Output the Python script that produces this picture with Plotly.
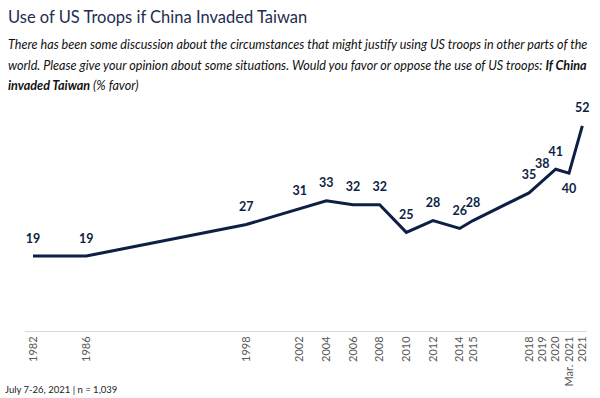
import plotly.graph_objects as go

# Data
tick_labels = ["1982", "1986", "1998", "2002", "2004", "2006", "2008", "2010",
               "2012", "2014", "2015", "2018", "2019", "2020", "Mar. 2021", "2021"]
# axis positions (the reference axis spaces the recent surveys one unit apart)
x_pos = [1982, 1986, 1998, 2002, 2004, 2006, 2008, 2010,
         2012, 2014, 2015, 2019.2, 2020.2, 2021.2, 2022.2, 2023.2]
favor = [19, 19, 27, 31, 33, 32, 32, 25, 28, 26, 28, 35, 38, 41, 40, 52]
label_pos = ["top center"] * len(favor)
label_pos[14] = "bottom center"

navy = "#0E1F45"
font_family = "Lato, 'Open Sans', sans-serif"

W, H = 600, 398
ML, MR, MT, MB = 25, 13, 114, 67

fig = go.Figure()
fig.add_trace(go.Scatter(
    x=x_pos, y=favor,
    mode="lines+markers+text",
    line=dict(color=navy, width=3),
    marker=dict(size=15, color="rgba(0,0,0,0)"),
    text=[str(v) for v in favor],
    textposition=label_pos,
    textfont=dict(family=font_family, size=12.5, color=navy, weight="bold"),
    cliponaxis=False,
    hoverinfo="skip",
    showlegend=False,
))

fig.update_layout(
    width=W, height=H,
    margin=dict(l=ML, r=MR, t=MT, b=MB, autoexpand=False),
    paper_bgcolor="white",
    plot_bgcolor="white",
    font=dict(family=font_family),
    xaxis=dict(
        range=[1981.4, 2023.55],
        tickmode="array",
        tickvals=x_pos,
        ticktext=tick_labels,
        tickangle=-90,
        tickfont=dict(size=11, color="#595959", family=font_family),
        showgrid=False,
        zeroline=False,
        showline=True,
        linecolor="#D9D9D9",
        linewidth=1,
        ticks="",
        automargin=False,
        fixedrange=True,
    ),
    yaxis=dict(
        range=[0, 55],
        visible=False,
        showgrid=False,
        zeroline=False,
        fixedrange=True,
    ),
)


def add_text(text, px_x, px_y, size, color, anchor="left"):
    fig.add_annotation(
        text=text, xref="paper", yref="paper",
        x=(px_x - ML) / (W - ML - MR),
        y=(H - MB - px_y) / (H - MT - MB),
        xanchor=anchor, yanchor="middle", showarrow=False,
        font=dict(family=font_family, size=size, color=color),
        align="left",
    )


add_text("Use of US Troops if China Invaded Taiwan", 6, 17, 16.5, "#1F2D50")
add_text("<i>There has been some discussion about the circumstances that might justify using US troops in other parts of the</i>",
         6, 44, 12.6, "#111111")
add_text("<i>world. Please give your opinion about some situations. Would you favor or oppose the use of US troops: <b>If China</b></i>",
         6, 65, 12.6, "#111111")
add_text("<i><b>invaded Taiwan</b> (% favor)</i>", 6, 86, 12.6, "#111111")
add_text("July 7-26, 2021 | n = 1,039", 3, 389, 9.5, "#222222")

fig.write_html("out.html",
               config={"displayModeBar": False, "staticPlot": True},
               post_script="document.body.style.margin='0';document.body.style.padding='0';")
